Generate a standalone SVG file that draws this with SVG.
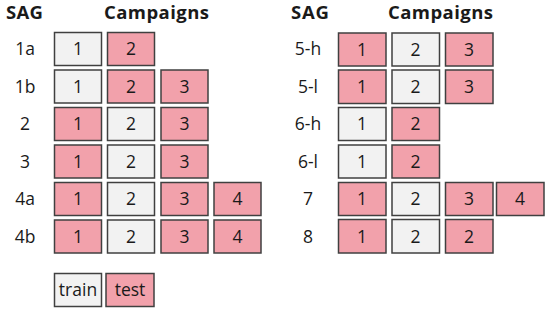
<svg xmlns="http://www.w3.org/2000/svg" width="550" height="313" viewBox="0 0 550 313">
<style>
text{font-family:"Open Sans","Liberation Sans",sans-serif;fill:#1a1a1a}
.h{font-size:18.5px;font-weight:bold}
.l{font-size:17.5px;text-anchor:middle}
.n{font-size:17.5px;text-anchor:middle}
.tr{fill:#f2f2f2;stroke:#404040;stroke-width:1.5}
.te{fill:#f2a1ab;stroke:#404040;stroke-width:1.5}
</style>
<rect width="550" height="313" fill="#fff"/>
<g id="headers">
<text class="h" x="6" y="19" textLength="37">SAG</text>
<text class="h" x="104" y="19" textLength="105">Campaigns</text>
<text class="h" x="291" y="19" textLength="38">SAG</text>
<text class="h" x="388" y="19" textLength="105">Campaigns</text>
</g>
<g id="row-1a">
<text class="l" x="25" y="55">1a</text>
<rect class="tr" x="54.5" y="32.5" width="47" height="33"/><text class="n" x="78" y="55">1</text>
<rect class="te" x="107.5" y="32.5" width="47" height="33"/><text class="n" x="131" y="55">2</text>
</g>
<g id="row-1b">
<text class="l" x="25" y="92.5">1b</text>
<rect class="tr" x="54.5" y="70" width="47" height="33"/><text class="n" x="78" y="92.5">1</text>
<rect class="te" x="107.5" y="70" width="47" height="33"/><text class="n" x="131" y="92.5">2</text>
<rect class="te" x="161" y="70" width="47" height="33"/><text class="n" x="184.5" y="92.5">3</text>
</g>
<g id="row-2">
<text class="l" x="25" y="130">2</text>
<rect class="te" x="54.5" y="107.5" width="47" height="33"/><text class="n" x="78" y="130">1</text>
<rect class="tr" x="107.5" y="107.5" width="47" height="33"/><text class="n" x="131" y="130">2</text>
<rect class="te" x="161" y="107.5" width="47" height="33"/><text class="n" x="184.5" y="130">3</text>
</g>
<g id="row-3">
<text class="l" x="25" y="167.5">3</text>
<rect class="te" x="54.5" y="145" width="47" height="33"/><text class="n" x="78" y="167.5">1</text>
<rect class="tr" x="107.5" y="145" width="47" height="33"/><text class="n" x="131" y="167.5">2</text>
<rect class="te" x="161" y="145" width="47" height="33"/><text class="n" x="184.5" y="167.5">3</text>
</g>
<g id="row-4a">
<text class="l" x="25" y="205">4a</text>
<rect class="te" x="54.5" y="182.5" width="47" height="33"/><text class="n" x="78" y="205">1</text>
<rect class="tr" x="107.5" y="182.5" width="47" height="33"/><text class="n" x="131" y="205">2</text>
<rect class="te" x="161" y="182.5" width="47" height="33"/><text class="n" x="184.5" y="205">3</text>
<rect class="te" x="214" y="182.5" width="47" height="33"/><text class="n" x="237.5" y="205">4</text>
</g>
<g id="row-4b">
<text class="l" x="25" y="242.5">4b</text>
<rect class="te" x="54.5" y="220" width="47" height="33"/><text class="n" x="78" y="242.5">1</text>
<rect class="tr" x="107.5" y="220" width="47" height="33"/><text class="n" x="131" y="242.5">2</text>
<rect class="te" x="161" y="220" width="47" height="33"/><text class="n" x="184.5" y="242.5">3</text>
<rect class="te" x="214" y="220" width="47" height="33"/><text class="n" x="237.5" y="242.5">4</text>
</g>
<g id="row-5-h">
<text class="l" x="308" y="55">5-h</text>
<rect class="te" x="338.5" y="33" width="47.5" height="33"/><text class="n" x="362" y="55.5">1</text>
<rect class="tr" x="392" y="33" width="47.5" height="33"/><text class="n" x="415.5" y="55.5">2</text>
<rect class="te" x="445.5" y="33" width="47.5" height="33"/><text class="n" x="469" y="55.5">3</text>
</g>
<g id="row-5-l">
<text class="l" x="308" y="92.5">5-l</text>
<rect class="te" x="338.5" y="70" width="47.5" height="33.5"/><text class="n" x="362" y="92.5">1</text>
<rect class="tr" x="392" y="70" width="47.5" height="33.5"/><text class="n" x="415.5" y="92.5">2</text>
<rect class="te" x="445.5" y="70" width="47.5" height="33.5"/><text class="n" x="469" y="92.5">3</text>
</g>
<g id="row-6-h">
<text class="l" x="308" y="130">6-h</text>
<rect class="tr" x="338.5" y="107.5" width="47.5" height="33"/><text class="n" x="362" y="130">1</text>
<rect class="te" x="392" y="107.5" width="47.5" height="33"/><text class="n" x="415.5" y="130">2</text>
</g>
<g id="row-6-l">
<text class="l" x="308" y="167.5">6-l</text>
<rect class="tr" x="338.5" y="145" width="47.5" height="33"/><text class="n" x="362" y="167.5">1</text>
<rect class="te" x="392" y="145" width="47.5" height="33"/><text class="n" x="415.5" y="167.5">2</text>
</g>
<g id="row-7">
<text class="l" x="308" y="205">7</text>
<rect class="te" x="338.5" y="182.5" width="47.5" height="33"/><text class="n" x="362" y="205">1</text>
<rect class="tr" x="392" y="182.5" width="47.5" height="33"/><text class="n" x="415.5" y="205">2</text>
<rect class="te" x="445.5" y="182.5" width="47.5" height="33"/><text class="n" x="469" y="205">3</text>
<rect class="te" x="496.5" y="182.5" width="47.5" height="33"/><text class="n" x="520" y="205">4</text>
</g>
<g id="row-8">
<text class="l" x="308" y="242.5">8</text>
<rect class="te" x="338.5" y="219.5" width="47.5" height="33.5"/><text class="n" x="362" y="242.5">1</text>
<rect class="tr" x="392" y="219.5" width="47.5" height="33.5"/><text class="n" x="415.5" y="242.5">2</text>
<rect class="te" x="445.5" y="219.5" width="47.5" height="33.5"/><text class="n" x="469" y="242.5">2</text>
</g>
<g id="legend">
<rect class="tr" x="54.5" y="273.5" width="47" height="33"/><text class="n" x="78" y="296">train</text>
<rect class="te" x="106" y="273.5" width="48" height="33"/><text class="n" x="130" y="296">test</text>
</g>
</svg>
